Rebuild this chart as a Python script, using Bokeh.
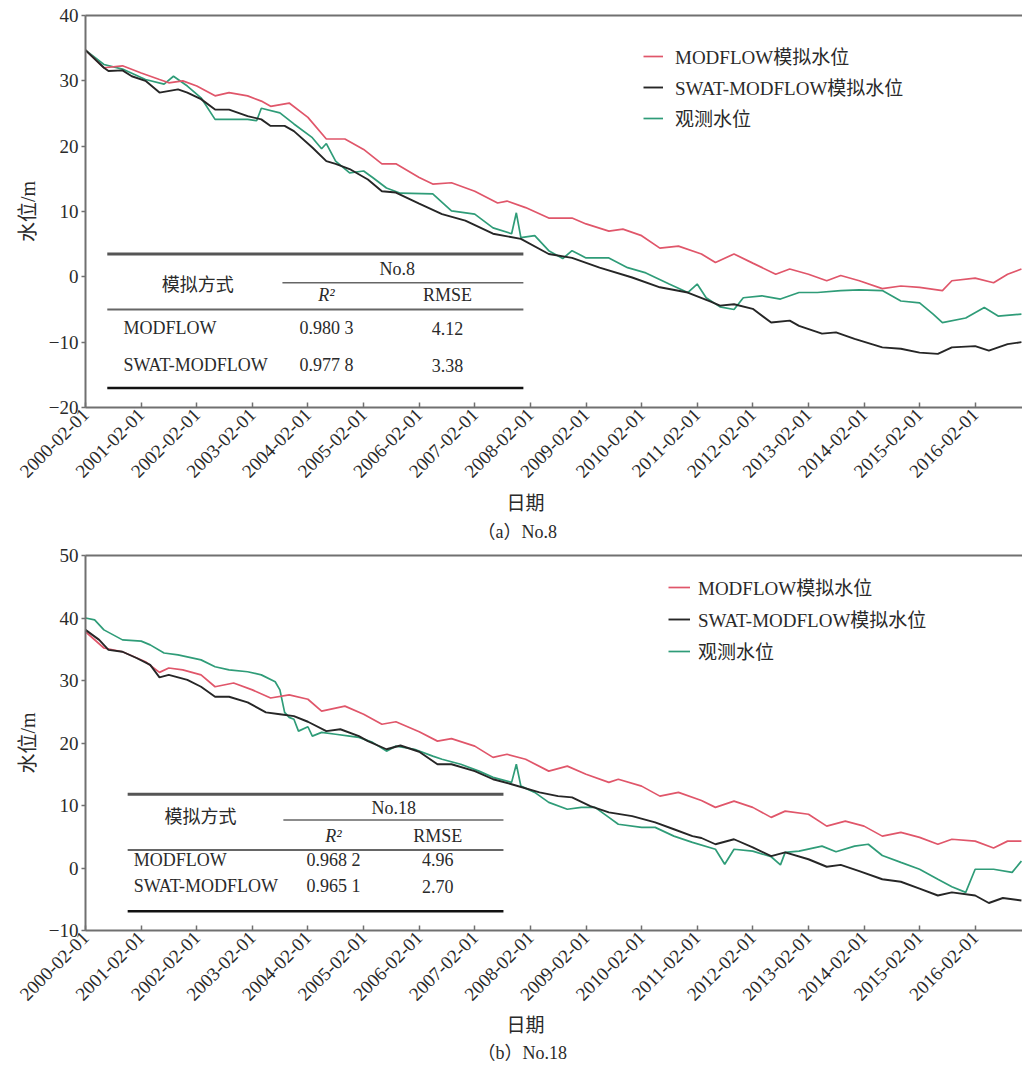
import pandas as pd
from math import pi
from bokeh.plotting import figure
from bokeh.models import (Range1d, FixedTicker, DatetimeTickFormatter, LinearAxis,
                          Legend, LegendItem, Title, Label)
from bokeh.layouts import column
from bokeh.embed import file_html
from bokeh.resources import INLINE

# ---------------- data: well No.8 ----------------
mod8_dates = ["2000-02", "2000-06", "2000-10", "2001-02", "2001-06", "2001-08", "2001-11", "2002-02",
              "2002-06", "2002-09", "2003-01", "2003-04", "2003-06", "2003-10", "2004-02", "2004-06",
              "2004-10", "2005-02", "2005-06", "2005-09", "2006-02", "2006-05", "2006-09", "2007-02",
              "2007-07", "2007-09", "2008-01", "2008-06", "2008-11", "2009-02", "2009-07", "2009-10",
              "2010-02", "2010-06", "2010-10", "2011-03", "2011-06", "2011-10", "2012-02", "2012-07",
              "2012-10", "2013-02", "2013-06", "2013-09", "2014-01", "2014-06", "2014-10", "2015-02",
              "2015-07", "2015-09", "2016-02", "2016-06", "2016-09", "2016-12"]
mod8_vals = [34.7, 32.0, 32.3, 31.2, 30.2, 29.7, 30.0, 29.2,
             27.7, 28.2, 27.7, 26.9, 26.1, 26.6, 24.4, 21.1,
             21.1, 19.5, 17.3, 17.3, 15.2, 14.2, 14.4, 13.1,
             11.3, 11.6, 10.6, 9.0, 9.0, 8.1, 7.0, 7.3,
             6.3, 4.4, 4.7, 3.5, 2.2, 3.5, 2.1, 0.4,
             1.2, 0.4, -0.6, 0.2, -0.6, -1.8, -1.4, -1.6,
             -2.1, -0.6, -0.2, -0.9, 0.4, 1.2]

swat8_dates = ["2000-02", "2000-06", "2000-07", "2000-10", "2000-12", "2001-03", "2001-06", "2001-10",
               "2001-12", "2002-03", "2002-06", "2002-09", "2003-01", "2003-04", "2003-06", "2003-09",
               "2003-11", "2004-03", "2004-06", "2004-08", "2004-11", "2005-03", "2005-06", "2005-09",
               "2006-02", "2006-07", "2006-12", "2007-06", "2007-12", "2008-06", "2008-11", "2009-05",
               "2009-12", "2010-06", "2010-12", "2011-05", "2011-07", "2011-10", "2012-02", "2012-06",
               "2012-10", "2012-12", "2013-05", "2013-08", "2013-12", "2014-06", "2014-10", "2015-02",
               "2015-06", "2015-09", "2016-02", "2016-05", "2016-09", "2016-12"]
swat8_vals = [34.7, 32.0, 31.5, 31.6, 30.7, 30.0, 28.2, 28.7,
              28.2, 27.2, 25.6, 25.6, 24.6, 24.1, 23.1, 23.1,
              22.3, 19.8, 17.7, 17.3, 16.5, 14.9, 13.1, 12.9,
              11.2, 9.6, 8.6, 6.6, 5.8, 3.5, 2.9, 1.4,
              -0.1, -1.6, -2.4, -3.8, -4.4, -4.2, -4.9, -7.0,
              -6.7, -7.5, -8.7, -8.5, -9.5, -10.8, -11.0, -11.6,
              -11.8, -10.8, -10.6, -11.3, -10.3, -10.0]

obs8_dates = ["2000-02", "2000-06", "2000-10", "2001-03", "2001-07", "2001-09", "2001-12", "2002-03",
              "2002-06", "2002-09", "2003-01", "2003-03", "2003-04", "2003-08", "2003-11", "2004-03",
              "2004-05", "2004-06", "2004-08", "2004-11", "2005-02", "2005-04", "2005-07", "2005-10",
              "2006-05", "2006-09", "2007-02", "2007-06", "2007-10", "2007-11", "2007-12", "2008-03",
              "2008-06", "2008-09", "2008-11", "2009-02", "2009-07", "2009-11", "2010-03", "2010-08",
              "2010-12", "2011-02", "2011-04", "2011-07", "2011-10", "2011-12", "2012-04", "2012-08",
              "2012-12", "2013-04", "2013-09", "2014-01", "2014-06", "2014-10", "2015-02", "2015-05",
              "2015-07", "2015-12", "2016-04", "2016-07", "2016-12"]
obs8_vals = [34.7, 32.5, 31.8, 30.2, 29.5, 30.7, 29.2, 27.4,
             24.1, 24.1, 24.1, 23.9, 25.8, 25.1, 23.4, 21.3,
             19.6, 20.4, 17.7, 15.9, 16.2, 15.2, 13.6, 12.8,
             12.7, 10.1, 9.6, 7.5, 6.6, 9.8, 6.0, 6.3,
             4.0, 2.8, 4.0, 2.9, 2.9, 1.4, 0.6, -1.1,
             -2.4, -1.1, -3.2, -4.6, -5.0, -3.2, -2.9, -3.4,
             -2.4, -2.4, -2.1, -2.0, -2.1, -3.7, -4.0, -5.7,
             -7.0, -6.3, -4.7, -6.0, -5.7]

# ---------------- data: well No.18 ----------------
mod18_dates = ["2000-02", "2000-06", "2000-10", "2001-03", "2001-06", "2001-08", "2001-11", "2002-03",
               "2002-06", "2002-10", "2003-02", "2003-06", "2003-10", "2004-02", "2004-05", "2004-10",
               "2005-02", "2005-06", "2005-09", "2006-02", "2006-06", "2006-09", "2007-02", "2007-06",
               "2007-09", "2008-01", "2008-06", "2008-10", "2009-02", "2009-07", "2009-09", "2010-02",
               "2010-06", "2010-10", "2011-03", "2011-06", "2011-10", "2012-02", "2012-06", "2012-09",
               "2013-02", "2013-06", "2013-10", "2014-02", "2014-06", "2014-10", "2015-02", "2015-06",
               "2015-09", "2016-02", "2016-06", "2016-09", "2016-12"]
mod18_vals = [37.8, 35.2, 34.6, 33.0, 31.3, 32.0, 31.7, 30.9,
              29.0, 29.6, 28.5, 27.2, 27.7, 27.0, 25.1, 25.9,
              24.6, 23.0, 23.4, 21.8, 20.3, 20.7, 19.5, 17.7,
              18.2, 17.4, 15.5, 16.3, 15.0, 13.7, 14.2, 13.1,
              11.5, 12.1, 10.8, 9.7, 10.7, 9.7, 8.1, 9.1,
              8.6, 6.7, 7.5, 6.7, 5.1, 5.7, 4.9, 3.8,
              4.6, 4.3, 3.2, 4.3, 4.3]

swat18_dates = ["2000-02", "2000-05", "2000-07", "2000-10", "2001-01", "2001-04", "2001-06", "2001-08",
                "2001-12", "2002-03", "2002-06", "2002-09", "2003-01", "2003-05", "2003-08", "2003-11",
                "2004-02", "2004-06", "2004-09", "2005-01", "2005-03", "2005-07", "2005-10", "2006-02",
                "2006-06", "2006-09", "2007-02", "2007-06", "2007-10", "2008-04", "2008-08", "2008-11",
                "2009-03", "2009-07", "2009-12", "2010-05", "2010-09", "2011-01", "2011-03", "2011-06",
                "2011-10", "2012-02", "2012-06", "2012-09", "2013-02", "2013-06", "2013-09", "2014-01",
                "2014-06", "2014-10", "2015-02", "2015-06", "2015-09", "2016-02", "2016-05", "2016-08",
                "2016-12"]
swat18_vals = [38.1, 36.5, 34.9, 34.6, 33.6, 32.5, 30.5, 30.9,
               30.1, 29.0, 27.4, 27.4, 26.5, 24.9, 24.6, 24.3,
               23.4, 21.9, 22.2, 21.1, 20.3, 19.0, 19.6, 18.6,
               16.6, 16.6, 15.5, 14.2, 13.4, 12.1, 11.5, 11.3,
               9.9, 8.9, 8.3, 7.3, 6.2, 5.1, 4.8, 3.8,
               4.6, 3.3, 1.9, 2.5, 1.4, 0.2, 0.5, -0.5,
               -1.8, -2.2, -3.3, -4.4, -3.9, -4.4, -5.6, -4.8,
               -5.2]

obs18_dates = ["2000-02", "2000-04", "2000-06", "2000-10", "2001-02", "2001-04", "2001-07", "2001-10",
               "2002-03", "2002-06", "2002-09", "2003-01", "2003-04", "2003-07", "2003-08", "2003-09",
               "2003-10", "2003-11", "2003-12", "2004-02", "2004-03", "2004-05", "2004-08", "2004-11",
               "2005-01", "2005-04", "2005-07", "2005-09", "2006-01", "2006-05", "2006-07", "2006-11",
               "2007-03", "2007-06", "2007-10", "2007-11", "2007-12", "2008-03", "2008-06", "2008-10",
               "2009-01", "2009-04", "2009-07", "2009-09", "2010-02", "2010-05", "2010-09", "2011-01",
               "2011-06", "2011-08", "2011-10", "2012-02", "2012-06", "2012-08", "2012-09", "2012-12",
               "2013-05", "2013-08", "2013-12", "2014-03", "2014-06", "2014-10", "2015-02", "2015-06",
               "2015-09", "2015-12", "2016-02", "2016-06", "2016-10", "2016-12"]
obs18_vals = [40.0, 39.7, 38.1, 36.5, 36.3, 35.7, 34.4, 34.1,
              33.3, 32.2, 31.7, 31.4, 30.9, 29.8, 28.5, 24.9,
              24.1, 23.8, 21.9, 22.6, 21.1, 21.7, 21.4, 21.1,
              20.9, 20.1, 18.7, 19.5, 19.0, 17.9, 17.4, 16.6,
              15.5, 14.5, 13.7, 16.6, 13.1, 12.1, 10.5, 9.4,
              9.7, 9.7, 8.1, 7.0, 6.5, 6.5, 5.1, 4.1,
              3.0, 0.6, 3.0, 2.7, 1.8, 0.5, 2.5, 2.7,
              3.5, 2.6, 3.5, 3.8, 2.0, 0.9, -0.2, -1.8,
              -3.0, -3.9, -0.2, -0.2, -0.7, 1.1]

tick_dates = ["2000-02-01", "2001-02-01", "2002-02-01", "2003-02-01", "2004-02-01", "2005-02-01",
              "2006-02-01", "2007-02-01", "2008-02-01", "2009-02-01", "2010-02-01", "2011-02-01",
              "2012-02-01", "2013-02-01", "2014-02-01", "2015-02-01", "2016-02-01"]
series_names = ["MODFLOW模拟水位", "SWAT-MODFLOW模拟水位", "观测水位"]
table_head = ["模拟方式", "R²", "RMSE"]
table8_rows = [["MODFLOW", "0.980 3", "4.12"], ["SWAT-MODFLOW", "0.977 8", "3.38"]]
table18_rows = [["MODFLOW", "0.968 2", "4.96"], ["SWAT-MODFLOW", "0.965 1", "2.70"]]

# ---------------- styling ----------------
FONT = "Liberation Serif, Noto Sans CJK SC"
C_MOD = "#e0566a"
C_SWAT = "#262626"
C_OBS = "#2f9c78"
AX = "#707070"
TXT = "#2a2a2a"
BASE = pd.Timestamp("2000-02-01")
X_END = pd.Timestamp("2016-12-08")


def d(s):
    return pd.to_datetime(s)


def mo(m):
    # position of an annotation, in months after 2000-02-01
    return BASE + pd.Timedelta(days=m * 30.4375)


def make_fig(height, btop, bbottom, yr, yticks, caption, cap_standoffs, leg_xy, leg_std,
             leg_gw, leg_sp, data, table, rows, colname):
    p = figure(width=1022, height=height, x_axis_type="datetime",
               x_range=Range1d(BASE, X_END), y_range=Range1d(*yr),
               output_backend="svg", toolbar_location=None,
               min_border_left=85, min_border_right=0,
               min_border_top=btop, min_border_bottom=bbottom)
    p.grid.visible = False
    p.outline_line_color = None
    p.background_fill_color = "white"

    # axes
    xa = p.xaxis[0]
    xa.ticker = FixedTicker(ticks=[d(t).value // 10**6 for t in tick_dates], minor_ticks=[])
    fmt = "%Y-%m-%d"
    xa.formatter = DatetimeTickFormatter(years=fmt, months=fmt, days=fmt, hours=fmt,
                                         hourmin=fmt, minutes=fmt, minsec=fmt, seconds=fmt,
                                         milliseconds=fmt, microseconds=fmt)
    xa.major_label_orientation = pi / 4
    xa.major_tick_in = 5
    xa.major_tick_out = 0
    xa.minor_tick_line_color = None
    xa.major_label_standoff = 4
    ya = p.yaxis[0]
    ya.ticker = FixedTicker(ticks=yticks, minor_ticks=[])
    ya.major_tick_in = 0
    ya.major_tick_out = 4
    ya.minor_tick_line_color = None
    ya.major_label_standoff = 3
    ya.axis_label = "水位/m"
    ya.axis_label_standoff = 7
    for a in (xa, ya):
        a.axis_line_color = AX
        a.axis_line_width = 2
        a.major_tick_line_color = AX
        a.major_tick_line_width = 1.5
        a.major_label_text_font = FONT
        a.major_label_text_font_size = "19px"
        a.major_label_text_color = TXT
        a.axis_label_text_font = FONT
        a.axis_label_text_font_size = "20px"
        a.axis_label_text_font_style = "normal"
        a.axis_label_text_color = TXT

    top = LinearAxis(ticker=FixedTicker(ticks=[]), axis_line_color=AX, axis_line_width=2,
                     major_tick_line_color=None, minor_tick_line_color=None,
                     major_label_text_font_size="0px")
    p.add_layout(top, "above")

    t1 = Title(text="日期", align="left", offset=421, text_font=FONT, text_font_size="19px",
               text_font_style="normal", text_color=TXT, standoff=cap_standoffs[0])
    p.add_layout(t1, "below")
    t2 = Title(text=caption, align="left", offset=392, text_font=FONT, text_font_size="18px",
               text_font_style="normal", text_color=TXT, standoff=cap_standoffs[1])
    p.add_layout(t2, "below")

    # series
    (md, mv), (sd, sv), (od, ov) = data
    r_obs = p.line(d(od), ov, line_color=C_OBS, line_width=1.7)
    r_mod = p.line(d(md), mv, line_color=C_MOD, line_width=1.7)
    r_swat = p.line(d(sd), sv, line_color=C_SWAT, line_width=1.9)

    leg = Legend(items=[LegendItem(label=series_names[0], renderers=[r_mod]),
                        LegendItem(label=series_names[1], renderers=[r_swat]),
                        LegendItem(label=series_names[2], renderers=[r_obs])],
                 location=leg_xy, padding=0, margin=0, spacing=leg_sp,
                 glyph_width=leg_gw, glyph_height=20, label_height=20,
                 label_standoff=leg_std, border_line_color=None, background_fill_alpha=0,
                 label_text_font=FONT, label_text_font_size="19px", label_text_color=TXT)
    p.add_layout(leg)

    # three-line table
    tl = table
    p.segment(x0=[mo(tl["x0"])], y0=[tl["ytop"]], x1=[mo(tl["x1"])], y1=[tl["ytop"]],
              line_color="#555555", line_width=3)
    p.segment(x0=[mo(tl["xs"])], y0=[tl["ysub"]], x1=[mo(tl["x1"])], y1=[tl["ysub"]],
              line_color="#666666", line_width=1.5)
    p.segment(x0=[mo(tl["x0"])], y0=[tl["ymid"]], x1=[mo(tl["x1"])], y1=[tl["ymid"]],
              line_color="#666666", line_width=2)
    p.segment(x0=[mo(tl["x0"])], y0=[tl["ybot"]], x1=[mo(tl["x1"])], y1=[tl["ybot"]],
              line_color="#111111", line_width=2.5)

    def lab(x, y, text, align="center", style="normal"):
        p.add_layout(Label(x=mo(x), y=y, text=text, text_align=align, text_baseline="middle",
                           text_font=FONT, text_font_size="18px", text_font_style=style,
                           text_color=TXT))

    lab(tl["c0"], tl["yhead"], table_head[0])
    lab(tl["cno"], tl["yno"], colname)
    lab(tl["c1"], tl["ysubh"], table_head[1], style="italic")
    lab(tl["c2"], tl["ysubh"], table_head[2])
    for row, yy in zip(rows, tl["yrows"]):
        lab(tl["xl"], yy, row[0], align="left")
        lab(tl["c1"], yy, row[1])
        lab(tl["c2"], yy, row[2])
    return p


tab8 = dict(x0=4.7, x1=94.5, xs=42.5, ytop=3.5, ysub=-0.9, ymid=-5.0, ybot=-17.0,
            c0=24.2, yhead=-1.3, cno=67.3, yno=1.2, c1=52.0, c2=78.1, ysubh=-2.8,
            xl=8.2, yrows=[-7.9, -13.5])
tab18 = dict(x0=9.1, x1=90.2, xs=42.7, ytop=11.8, ysub=7.7, ymid=2.9, ybot=-6.9,
             c0=24.8, yhead=8.1, cno=66.5, yno=9.6, c1=53.5, c2=76.0, ysubh=5.1,
             xl=10.4, yrows=[1.3, -2.9])

p1 = make_fig(545, 15, 138, (-20, 40), [-20, -10, 0, 10, 20, 30, 40], "（a）No.8", (9, 3),
              (558, 276), 12, 20, 4,
              [(mod8_dates, mod8_vals), (swat8_dates, swat8_vals), (obs8_dates, obs8_vals)],
              tab8, table8_rows, "No.8")
p2 = make_fig(523, 10, 138, (-10, 50), [-10, 0, 10, 20, 30, 40, 50], "（b）No.18", (7, 2),
              (583, 266), 8, 22, 5,
              [(mod18_dates, mod18_vals), (swat18_dates, swat18_vals), (obs18_dates, obs18_vals)],
              tab18, table18_rows, "No.18")

layout = column(p1, p2, spacing=0)
open("out.html", "w").write(file_html(layout, INLINE))
